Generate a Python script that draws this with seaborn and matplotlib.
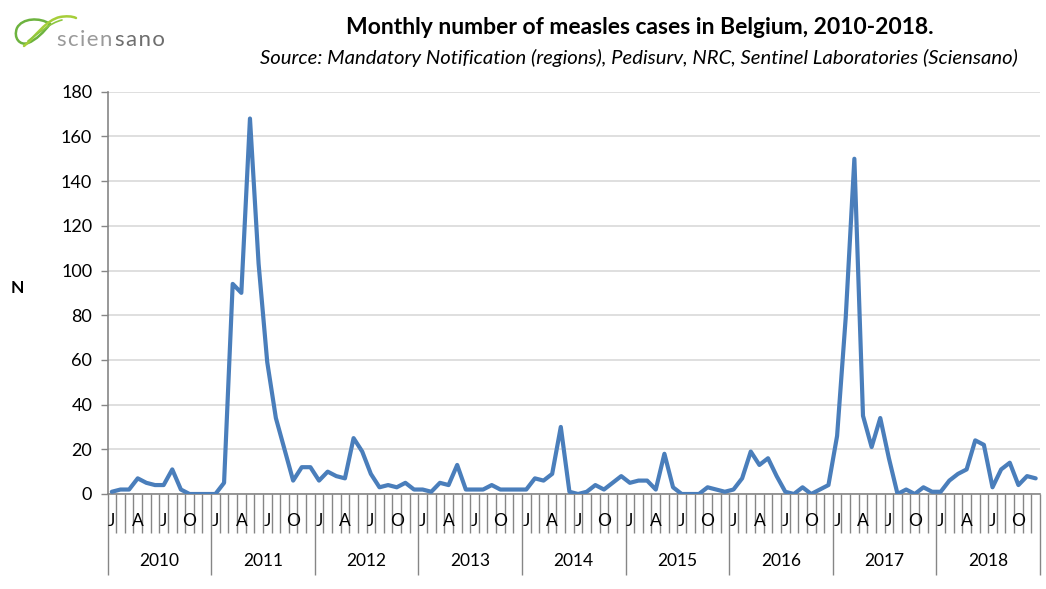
import numpy as np
import pandas as pd
import matplotlib
matplotlib.use("Agg")
import matplotlib.pyplot as plt
import matplotlib.transforms as mtransforms
from matplotlib.path import Path
from matplotlib.patches import PathPatch
import seaborn as sns

# ---------------- data ----------------
years = [2010, 2011, 2012, 2013, 2014, 2015, 2016, 2017, 2018]
month_labels = ["J", "", "", "A", "", "", "J", "", "", "O", "", ""]
cases_2010 = [1, 2, 2, 7, 5, 4, 4, 11, 2, 0, 0, 0]
cases_2011 = [0, 5, 94, 90, 168, 103, 59, 34, 20, 6, 12, 12]
cases_2012 = [6, 10, 8, 7, 25, 19, 9, 3, 4, 3, 5, 2]
cases_2013 = [2, 1, 5, 4, 13, 2, 2, 2, 4, 2, 2, 2]
cases_2014 = [2, 7, 6, 9, 30, 1, 0, 1, 4, 2, 5, 8]
cases_2015 = [5, 6, 6, 2, 18, 3, 0, 0, 0, 3, 2, 1]
cases_2016 = [2, 7, 19, 13, 16, 8, 1, 0, 3, 0, 2, 4]
cases_2017 = [26, 79, 150, 35, 21, 34, 16, 0, 2, 0, 3, 1]
cases_2018 = [1, 6, 9, 11, 24, 22, 3, 11, 14, 4, 8, 7]
y_ticks = [0, 20, 40, 60, 80, 100, 120, 140, 160, 180]

title = "Monthly number of measles cases in Belgium, 2010-2018."
subtitle = "Source: Mandatory Notification (regions), Pedisurv, NRC, Sentinel Laboratories (Sciensano)"
logo_part1 = "scien"
logo_part2 = "sano"

all_cases = (cases_2010 + cases_2011 + cases_2012 + cases_2013 + cases_2014
             + cases_2015 + cases_2016 + cases_2017 + cases_2018)
df = pd.DataFrame({"idx": np.arange(len(all_cases)), "cases": all_cases})

# ---------------- style ----------------
sns.set_theme(style="white")
plt.rcParams["font.family"] = ["Lato", "DejaVu Sans"]

W, H = 1046, 589
fig = plt.figure(figsize=(W / 100, H / 100), dpi=100)
ax = fig.add_axes([107.5 / W, 1 - 494 / H, (1040 - 107.5) / W, (494 - 91.7) / H])

axis_grey = "#868686"
grid_grey = "#D9D9D9"
line_blue = "#4A7EBB"

sns.lineplot(data=df, x="idx", y="cases", ax=ax, color=line_blue, linewidth=3.0,
             solid_joinstyle="round", solid_capstyle="round", zorder=3)

n = len(all_cases)
ax.set_xlim(-0.5, n - 0.5)
ax.set_ylim(0, 180)
ax.set_yticks(y_ticks)
ax.set_yticklabels([str(v) for v in y_ticks], fontsize=13, color="#000000")
ax.yaxis.grid(True, color=grid_grey, linewidth=1.2)
ax.set_axisbelow(True)
ax.tick_params(axis="y", which="major", direction="out", length=5, color=axis_grey,
               width=1, left=True, pad=6)
ax.set_xlabel("")
ax.set_ylabel("")

for s in ["top", "right"]:
    ax.spines[s].set_visible(False)
for s in ["left", "bottom"]:
    ax.spines[s].set_color(axis_grey)
    ax.spines[s].set_linewidth(1.2)

# x axis: month separators (minor) and year separators (major)
year_bounds = [i * 12 - 0.5 for i in range(len(years) + 1)]
month_bounds = [i - 0.5 for i in range(n + 1) if i % 12 != 0]
ax.set_xticks(year_bounds)
ax.set_xticks(month_bounds, minor=True)
ax.set_xticklabels([])
ax.tick_params(axis="x", which="major", direction="out", length=58, color=axis_grey,
               width=1, bottom=True)
ax.tick_params(axis="x", which="minor", direction="out", length=28, color=axis_grey,
               width=1, bottom=True)

trans = mtransforms.blended_transform_factory(ax.transData, ax.transAxes)
h_ax = 494 - 91.7
for yi, yr in enumerate(years):
    for m, lab in enumerate(month_labels):
        if lab:
            ax.text(yi * 12 + m, -27 / h_ax, lab, transform=trans, ha="center",
                    va="center", fontsize=12.5, color="#000000")
    ax.text(yi * 12 + 5.5, -67 / h_ax, str(yr), transform=trans, ha="center",
            va="center", fontsize=12.5, color="#000000")

# y label
fig.text(17 / W, 1 - 288 / H, "N", ha="center", va="center", fontsize=12.5,
         fontweight="bold", color="#000000")

# titles
fig.text(640 / W, 1 - 27 / H, title, ha="center", va="center", fontsize=16.5,
         fontweight="bold", color="#000000")
fig.text(1018 / W, 1 - 58 / H, subtitle, ha="right", va="center", fontsize=14.6,
         style="italic", color="#000000")

# logo text (letter-spaced with hair spaces), second part placed after the first
hs = "\u200a"
t1 = fig.text(57 / W, 1 - 46 / H, hs.join(logo_part1), ha="left", va="baseline",
              fontsize=16, color="#9A9A9A", fontweight="normal")
renderer = fig.canvas.get_renderer()
bb = t1.get_window_extent(renderer=renderer)
fig.text((bb.x1 + 2.5) / W, 1 - 46 / H, hs.join(logo_part2), ha="left", va="baseline",
         fontsize=16, color="#6E6E6E", fontweight="normal")

def logo_curve(pts, color, lw):
    codes = [Path.MOVETO] + [Path.CURVE4] * (len(pts) - 1)
    vf = [(x / W, 1 - y / H) for x, y in pts]
    fig.add_artist(PathPatch(Path(vf, codes), transform=fig.transFigure, fill=False,
                             edgecolor=color, linewidth=lw, capstyle="round"))

# leaf outline
logo_curve([(50, 24), (40, 17), (22, 18), (17, 28),
            (13, 38), (20, 46), (28, 43),
            (36, 40), (44, 32), (50, 24)], "#6DB33F", 1.8)
# swoosh
logo_curve([(24, 46), (36, 36), (46, 20), (60, 17),
            (66, 16), (72, 16), (76, 18)], "#A6CE39", 1.8)
logo_curve([(28, 41), (40, 32), (50, 23), (62, 20)], "#8DC63F", 1.2)

fig.savefig("out.png", dpi=100)
